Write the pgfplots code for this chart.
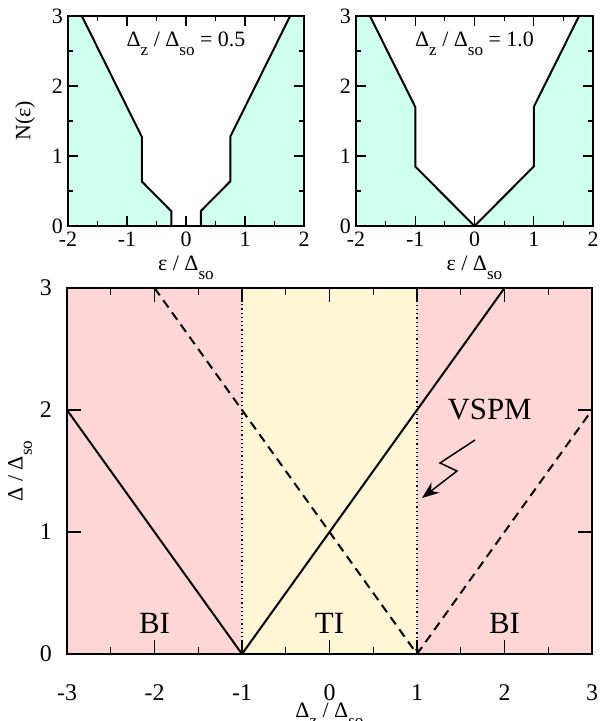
\documentclass[border=0pt]{standalone}
\usepackage{fontspec}
\setmainfont{Liberation Serif}
\usepackage{graphicx}
\usepackage{pgfplots}
\pgfplotsset{compat=1.18}
\usetikzlibrary{arrows.meta}
\definecolor{cyanfill}{RGB}{206,255,239}
\definecolor{pinkfill}{RGB}{255,214,214}
\definecolor{yelfill}{RGB}{255,246,214}
\newcommand{\sub}[1]{\raisebox{-0.42em}{\scalebox{0.78}{#1}}}
\begin{document}
\begin{tikzpicture}
\path[use as bounding box] (0bp,0bp) rectangle (605bp,-721bp);
\pgfplotsset{
  grstyle/.style={
    scale only axis,
    axis on top,
    axis line style={line width=1.5bp},
    every tick/.style={line width=1.1bp, black},
    tick align=inside,
    xtick pos=both, ytick pos=both,
    xticklabel pos=lower, yticklabel pos=left,
    major tick length=10bp, minor tick length=5bp,
    tick label style={font=\fontsize{22}{26}\selectfont},
    xticklabel style={anchor=base, yshift=-20bp},
    yticklabel style={anchor=east, inner sep=0pt, xshift=-5bp},
    label style={font=\fontsize{22}{26}\selectfont},
  }
}
% ---------- top left ----------
\begin{axis}[grstyle, at={(68bp,-226bp)}, anchor=south west, width=236bp, height=210bp,
  xmin=-2, xmax=2, ymin=0, ymax=3,
  xtick={-2,-1,0,1,2}, xticklabels={-2,-1,0,1,2},
  ytick={0,1,2,3}, yticklabels={0,1,2,3},
  minor x tick num=1, minor y tick num=1,
  xlabel={ε / Δ\sub{so}},
  xlabel style={at={(axis description cs:0.5,-0.2095)}, anchor=base},
  ylabel={N(ε)},
  ylabel style={at={(axis description cs:-0.182,0.5)}, anchor=center}]
\addplot[fill=cyanfill, draw=none] coordinates {(-2,0) (-2,3) (-1.765,3) (-0.75,1.275) (-0.75,0.6375) (-0.25,0.2125) (-0.25,0) (0.25,0) (0.25,0.2125) (0.75,0.6375) (0.75,1.275) (1.765,3) (2,3) (2,0)} -- cycle;
\addplot[line width=2bp] coordinates {(-1.765,3) (-0.75,1.275) (-0.75,0.6375) (-0.25,0.2125) (-0.25,0) (0.25,0) (0.25,0.2125) (0.75,0.6375) (0.75,1.275) (1.765,3)};
\node[font=\fontsize{22}{26}\selectfont] at (axis cs:0,2.6) {Δ\sub{z} / Δ\sub{so} = 0.5};
\end{axis}
% ---------- top right ----------
\begin{axis}[grstyle, at={(356bp,-226bp)}, anchor=south west, width=237bp, height=210bp,
  xmin=-2, xmax=2, ymin=0, ymax=3,
  xtick={-2,-1,0,1,2}, xticklabels={-2,-1,0,1,2},
  ytick={0,1,2,3}, yticklabels={0,1,2,3},
  minor x tick num=1, minor y tick num=1,
  xlabel={ε / Δ\sub{so}},
  xlabel style={at={(axis description cs:0.5,-0.2095)}, anchor=base}]
\addplot[fill=cyanfill, draw=none] coordinates {(-2,0) (-2,3) (-1.765,3) (-1,1.7) (-1,0.85) (0,0) (1,0.85) (1,1.7) (1.765,3) (2,3) (2,0)} -- cycle;
\addplot[line width=2bp] coordinates {(-1.765,3) (-1,1.7) (-1,0.85) (0,0) (1,0.85) (1,1.7) (1.765,3)};
\node[font=\fontsize{22}{26}\selectfont] at (axis cs:0,2.6) {Δ\sub{z} / Δ\sub{so} = 1.0};
\end{axis}
% ---------- bottom ----------
\begin{axis}[grstyle, at={(67bp,-654bp)}, anchor=south west, width=525bp, height=366bp,
  axis line style={line width=2bp},
  xmin=-3, xmax=3, ymin=0, ymax=3,
  xtick={-3,-2,-1,0,1,2,3}, xticklabels={-3,-2,-1,0,1,2,3},
  ytick={0,1,2,3}, yticklabels={0,1,2,3},
  minor x tick num=1,
  major tick length=14bp, minor tick length=7bp,
  tick label style={font=\fontsize{24}{28}\selectfont},
  xticklabel style={yshift=-26bp},
  yticklabel style={xshift=-10bp},
  xlabel={Δ\sub{z} / Δ\sub{so}},
  xlabel style={at={(axis description cs:0.5,-0.173)}, anchor=base},
  ylabel={Δ / Δ\sub{so}},
  ylabel style={at={(axis description cs:-0.0895,0.5)}, anchor=center}]
\addplot[fill=pinkfill, draw=none] coordinates {(-3,0) (-3,3) (3,3) (3,0)} -- cycle;
\addplot[fill=yelfill, draw=none] coordinates {(-1,0) (-1,3) (1,3) (1,0)} -- cycle;
\addplot[line width=1.2bp, dash pattern=on 1.2bp off 3bp] coordinates {(-1,0) (-1,3)};
\addplot[line width=1.2bp, dash pattern=on 1.2bp off 3bp, -{Latex[length=5bp,width=4bp]}] coordinates {(1,3) (1,0)};
\addplot[line width=2bp] coordinates {(-3,2) (-1,0) (2,3)};
\addplot[line width=2bp, dash pattern=on 9bp off 6bp] coordinates {(-2,3) (1,0) (3,2)};
\node[font=\fontsize{31}{36}\selectfont] at (axis cs:-2,0.25) {BI};
\node[font=\fontsize{31}{36}\selectfont] at (axis cs:0,0.25) {TI};
\node[font=\fontsize{31}{36}\selectfont] at (axis cs:2,0.25) {BI};
\node[font=\fontsize{31}{36}\selectfont] at (axis cs:1.83,2.0) {VSPM};
\draw[line width=1.5bp, -{Stealth[length=17bp,width=13bp]}] (axis cs:1.663,1.754) -- (axis cs:1.263,1.566) -- (axis cs:1.457,1.5) -- (axis cs:1.057,1.279);
\end{axis}
\end{tikzpicture}
\end{document}
